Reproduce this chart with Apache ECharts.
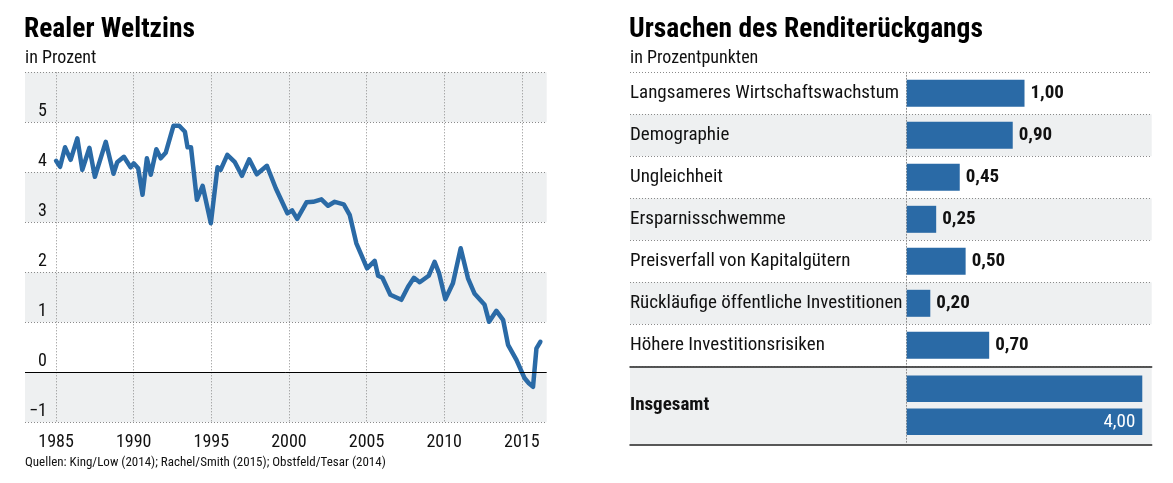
<!DOCTYPE html>
<html><head><meta charset="utf-8">
<script src="https://cdn.jsdelivr.net/npm/echarts@6/dist/echarts.min.js"></script>
<style>html,body{margin:0;padding:0;background:#fff}#c{width:1173px;height:483px}</style>
</head><body><div id="c"></div>
<script>
const FONT = "'Roboto Condensed', sans-serif";

// Left chart: real world interest rate (percent)
const lineYears = [1985.0,1985.26,1985.58,1985.94,1986.37,1986.69,1987.15,1987.5,1988.2,1988.7,1988.94,1989.37,1989.8,1990.0,1990.29,1990.57,1990.85,1991.1,1991.46,1991.74,1992.06,1992.56,1992.93,1993.3,1993.47,1993.69,1994.07,1994.44,1994.97,1995.4,1995.6,1996.03,1996.5,1996.97,1997.44,1997.93,1998.58,1999.15,1999.9,2000.2,2000.53,2001.13,2001.56,2002.09,2002.52,2002.95,2003.53,2003.91,2004.34,2004.66,2005.03,2005.52,2005.74,2006.02,2006.53,2007.24,2007.67,2008.05,2008.42,2009.0,2009.38,2009.66,2010.07,2010.56,2011.06,2011.53,2011.96,2012.6,2012.89,2013.36,2013.79,2014.11,2014.65,2015.18,2015.45,2015.72,2015.94,2016.19];
const lineValues = [4.23,4.11,4.50,4.25,4.68,4.05,4.49,3.91,4.61,3.97,4.20,4.31,4.10,4.18,4.08,3.55,4.28,3.95,4.46,4.28,4.39,4.93,4.93,4.81,4.50,4.50,3.45,3.73,2.98,4.10,4.05,4.35,4.21,3.93,4.26,3.96,4.13,3.68,3.18,3.24,3.07,3.40,3.41,3.46,3.33,3.41,3.36,3.15,2.58,2.35,2.08,2.23,1.93,1.89,1.55,1.45,1.71,1.89,1.80,1.93,2.21,1.99,1.46,1.78,2.48,1.88,1.57,1.35,1.01,1.23,1.05,0.55,0.25,-0.12,-0.22,-0.29,0.48,0.61];
const xTickYears = [1985,1990,1995,2000,2005,2010,2015];

// Right chart: causes (percentage points)
const causeLabels = ['Langsameres Wirtschaftswachstum','Demographie','Ungleichheit','Ersparnisschwemme','Preisverfall von Kapitalgütern','Rückläufige öffentliche Investitionen','Höhere Investitionsrisiken'];
const causeValues = [1.00,0.90,0.45,0.25,0.50,0.20,0.70];
const totalLabels = ['Insgesamt'];
const totalValues = [4.00];
const barScaleMax = 2.0; // total bar is drawn broken at this value

const chart = echarts.init(document.getElementById('c'), null, {renderer:'canvas'});
const fmt = v => v.toFixed(2).replace('.', ',');
const blue = '#2a6aa6';
const shade = '#eef0f1';
const clear = 'rgba(255,255,255,0)';
const dotted = {color:'#8a8a8a', width:1, type:[1,2]};
const txt = '#111';

const option = {
  animation:false,
  textStyle:{fontFamily:FONT},
  title:[
    {text:'Realer Weltzins', left:24, top:16, padding:0, textStyle:{fontFamily:FONT, fontWeight:'bold', fontSize:27.5, color:'#000'}},
    {text:'in Prozent', left:25, top:49, padding:0, textStyle:{fontFamily:FONT, fontWeight:'normal', fontSize:18, color:txt}},
    {text:'Ursachen des Renditerückgangs', left:629, top:16, padding:0, textStyle:{fontFamily:FONT, fontWeight:'bold', fontSize:27.5, color:'#000'}},
    {text:'in Prozentpunkten', left:630, top:49, padding:0, textStyle:{fontFamily:FONT, fontWeight:'normal', fontSize:18, color:txt}},
    {text:'Quellen: King/Low (2014); Rachel/Smith (2015); Obstfeld/Tesar (2014)', left:25, top:456, padding:0, textStyle:{fontFamily:FONT, fontWeight:'normal', fontSize:13, color:txt}}
  ],
  grid:[
    {left:25, top:72.3, width:521.7, height:350},
    {left:630, top:72.3, width:521.7, height:294},
    {left:630, top:366.3, width:521.7, height:78}
  ],
  xAxis:[
    {gridIndex:0, type:'value', min:1983, max:2016.6,
     axisLine:{show:false}, axisTick:{show:false, customValues:xTickYears},
     axisLabel:{customValues:xTickYears, fontFamily:FONT, fontSize:18, color:txt, margin:11, formatter:v=>String(v)},
     splitLine:{show:true, lineStyle:dotted}},
    {gridIndex:1, type:'value', min:-2.35, max:2.08,
     axisLine:{show:true, onZero:false, lineStyle:{color:'#222', width:1.5}},
     axisTick:{show:false}, axisLabel:{show:false}, splitLine:{show:false}},
    {gridIndex:2, type:'value', min:-2.35, max:2.08,
     axisLine:{show:true, onZero:false, lineStyle:{color:'#222', width:1.5}},
     axisTick:{show:false}, axisLabel:{show:false}, splitLine:{show:false}}
  ],
  yAxis:[
    {gridIndex:0, type:'value', min:-1, max:6, interval:1,
     axisLine:{show:false}, axisTick:{show:false},
     axisLabel:{inside:true, align:'right', margin:22, verticalAlign:'bottom', padding:[0,0,2,0], fontFamily:FONT, fontSize:18, color:txt,
       formatter:v => v===6 ? '' : (v<0 ? '\u2212'+Math.abs(v) : String(v))},
     splitLine:{show:true, lineStyle:dotted},
     splitArea:{show:true, areaStyle:{color:[shade, clear]}}},
    {gridIndex:1, type:'category', inverse:true, data:causeLabels,
     axisLine:{show:true, onZero:true, lineStyle:dotted}, axisTick:{show:false},
     axisLabel:{align:'left', margin:0, fontFamily:FONT, fontSize:19, color:txt},
     splitLine:{show:true, lineStyle:dotted},
     splitArea:{show:true, areaStyle:{color:[clear, shade]}}},
    {gridIndex:2, type:'category', inverse:true, data:totalLabels,
     axisLine:{show:true, onZero:true, lineStyle:dotted}, axisTick:{show:false},
     axisLabel:{align:'left', margin:0, fontFamily:FONT, fontSize:19, fontWeight:'bold', color:txt},
     splitLine:{show:false},
     splitArea:{show:true, areaStyle:{color:[shade]}}}
  ],
  series:[
    {type:'line', xAxisIndex:0, yAxisIndex:0, symbol:'none', smooth:false,
     data: lineYears.map((y,i)=>[y, lineValues[i]]),
     lineStyle:{color:blue, width:4.5, cap:'round', join:'round'},
     markLine:{silent:true, symbol:'none', label:{show:false}, animation:false,
       lineStyle:{color:'#000', width:1, type:'solid'}, data:[{yAxis:0}]}},
    {type:'bar', xAxisIndex:1, yAxisIndex:1, data:causeValues, barWidth:27,
     itemStyle:{color:blue},
     label:{show:true, position:'right', distance:6, fontFamily:FONT, fontWeight:'bold', fontSize:19, color:txt, formatter:p=>fmt(p.value)}},
    {type:'bar', xAxisIndex:2, yAxisIndex:2, data:totalValues.map(v=>Math.min(v, barScaleMax)), barWidth:26.5, barGap:'25%',
     itemStyle:{color:blue}, label:{show:false}},
    {type:'bar', xAxisIndex:2, yAxisIndex:2, data:totalValues.map(v=>Math.min(v, barScaleMax)), barWidth:26.5, barGap:'25%',
     itemStyle:{color:blue},
     label:{show:true, position:'insideRight', distance:7, fontFamily:FONT, fontSize:19, color:'#fff', formatter:p=>fmt(totalValues[p.dataIndex])}}
  ]
};
chart.setOption(option);
</script>
</body></html>
